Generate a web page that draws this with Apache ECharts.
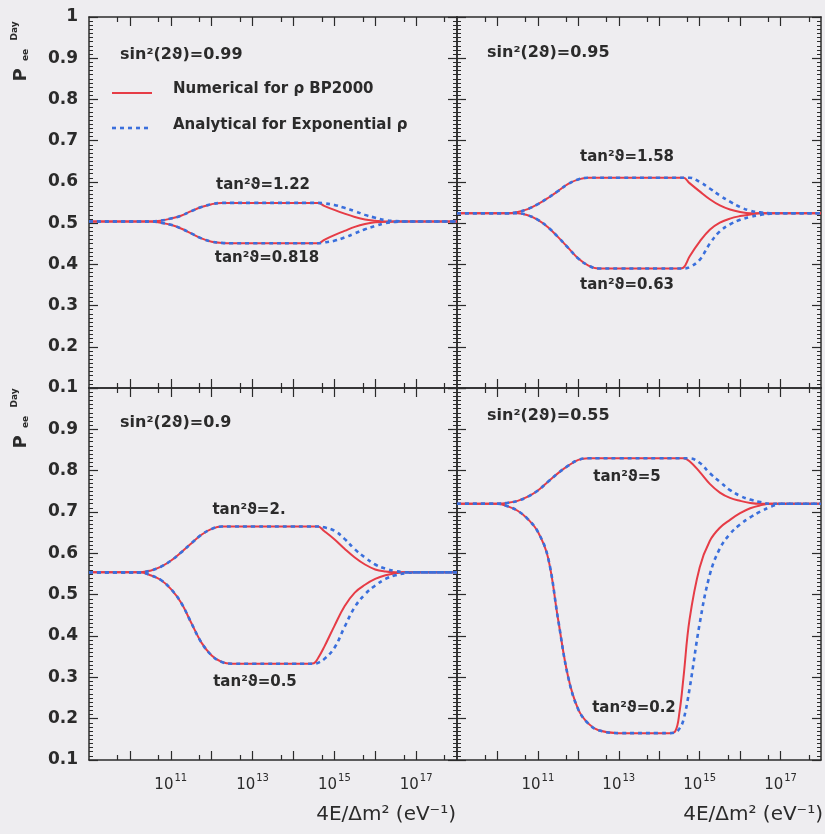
<!DOCTYPE html>
<html>
<head>
<meta charset="utf-8">
<script src="https://cdn.jsdelivr.net/npm/echarts@6/dist/echarts.min.js"></script>
<style>
html, body { margin: 0; padding: 0; background: #eeedf0; }
#chart { width: 825px; height: 834px; }
</style>
</head>
<body>
<div id="chart"></div>
<script>
// log10 of 4E/dm^2, shared by every curve
const logE = [9, 10, 10.25, 10.5, 10.75, 11, 11.25, 11.5, 11.75, 12, 12.25, 12.5, 13, 14, 14.25,
  14.4, 14.5, 14.6, 14.75, 15, 15.25, 15.5, 15.75, 16, 16.25, 16.5, 16.75, 17, 18];

// sin^2(2theta)=0.99
const p1UpRed = [0.504,0.504,0.504,0.504,0.506, 0.511,0.518,0.529,0.539,0.546, 0.549,0.549,0.549,0.549,0.549, 0.549,0.549,0.549,0.542,0.532, 0.523,0.515,0.509,0.506,0.504, 0.504,0.504,0.504,0.504];
const p1UpBlue = [0.504,0.504,0.504,0.504,0.506, 0.511,0.518,0.529,0.539,0.546, 0.549,0.549,0.549,0.549,0.549, 0.549,0.549,0.549,0.548,0.544, 0.537,0.529,0.520,0.513,0.507, 0.505,0.504,0.504,0.504];
const p1LowRed = [0.504,0.504,0.504,0.504,0.501, 0.496,0.487,0.475,0.463,0.455, 0.452,0.451,0.451,0.451,0.451, 0.451,0.451,0.451,0.459,0.471, 0.481,0.491,0.498,0.502,0.503, 0.504,0.504,0.504,0.504];
const p1LowBlue = [0.504,0.504,0.504,0.504,0.501, 0.496,0.487,0.475,0.463,0.455, 0.452,0.451,0.451,0.451,0.451, 0.451,0.451,0.451,0.453,0.457, 0.465,0.475,0.485,0.493,0.500, 0.503,0.504,0.504,0.504];

// sin^2(2theta)=0.95
const p2UpRed = [0.524,0.524,0.524,0.527,0.534, 0.546,0.561,0.578,0.595,0.606, 0.610,0.610,0.610,0.610,0.610, 0.610,0.610,0.610,0.597,0.577, 0.558,0.543,0.533,0.527,0.524, 0.524,0.524,0.524,0.524];
const p2UpBlue = [0.524,0.524,0.524,0.527,0.534, 0.546,0.561,0.578,0.595,0.606, 0.610,0.610,0.610,0.610,0.610, 0.610,0.610,0.610,0.610,0.600, 0.584,0.567,0.552,0.539,0.530, 0.526,0.524,0.524,0.524];
const p2LowRed = [0.524,0.524,0.524,0.524,0.519, 0.508,0.490,0.466,0.440,0.414, 0.397,0.390,0.390,0.390,0.390, 0.390,0.390,0.392,0.419,0.455, 0.484,0.501,0.511,0.517,0.521, 0.524,0.524,0.524,0.524];
const p2LowBlue = [0.524,0.524,0.524,0.524,0.519, 0.508,0.490,0.466,0.440,0.414, 0.397,0.390,0.390,0.390,0.390, 0.390,0.390,0.390,0.393,0.411, 0.450,0.480,0.497,0.508,0.515, 0.520,0.523,0.524,0.524];

// sin^2(2theta)=0.9
const p3UpRed = [0.554,0.554,0.554,0.558,0.567, 0.582,0.602,0.624,0.645,0.659, 0.665,0.665,0.665,0.665,0.665, 0.665,0.665,0.665,0.654,0.634, 0.611,0.590,0.573,0.561,0.556, 0.554,0.554,0.554,0.554];
const p3UpBlue = [0.554,0.554,0.554,0.558,0.567, 0.582,0.602,0.624,0.645,0.659, 0.665,0.665,0.665,0.665,0.665, 0.665,0.665,0.665,0.663,0.655, 0.635,0.610,0.590,0.573,0.563, 0.557,0.554,0.554,0.554];
const p3LowRed = [0.554,0.554,0.554,0.547,0.536, 0.514,0.481,0.432,0.384,0.353, 0.337,0.333,0.333,0.333,0.333, 0.333,0.334,0.346,0.373,0.424, 0.472,0.505,0.524,0.538,0.547, 0.552,0.554,0.554,0.554];
const p3LowBlue = [0.554,0.554,0.554,0.547,0.536, 0.514,0.481,0.432,0.384,0.353, 0.337,0.333,0.333,0.333,0.333, 0.333,0.333,0.335,0.344,0.371, 0.422,0.470,0.501,0.522,0.538, 0.547,0.552,0.554,0.554];

// sin^2(2theta)=0.55
const p4UpRed = [0.720,0.720,0.722,0.727,0.737, 0.752,0.773,0.794,0.812,0.826, 0.830,0.830,0.830,0.830,0.830, 0.830,0.830,0.830,0.823,0.797, 0.768,0.747,0.734,0.727,0.722, 0.720,0.720,0.720,0.720];
const p4UpBlue = [0.720,0.720,0.722,0.727,0.737, 0.752,0.773,0.794,0.812,0.826, 0.830,0.830,0.830,0.830,0.830, 0.830,0.830,0.830,0.830,0.819, 0.794,0.773,0.753,0.739,0.730, 0.724,0.720,0.720,0.720];
const p4LowRed = [0.720,0.720,0.714,0.703,0.683, 0.652,0.590,0.440,0.300,0.222, 0.188,0.172,0.165,0.165,0.165, 0.170,0.215,0.300,0.440,0.566, 0.630,0.662,0.681,0.697,0.709, 0.716,0.720,0.720,0.720];
const p4LowBlue = [0.720,0.720,0.714,0.703,0.683, 0.652,0.590,0.440,0.300,0.222, 0.188,0.172,0.165,0.165,0.165, 0.167,0.176,0.197,0.272,0.430, 0.548,0.612,0.647,0.670,0.687, 0.701,0.712,0.720,0.720];

const sinLabels = ['sin²(2ϑ)=0.99', 'sin²(2ϑ)=0.95', 'sin²(2ϑ)=0.9', 'sin²(2ϑ)=0.55'];
const tanLabels = [['tan²ϑ=1.22', 'tan²ϑ=0.818'], ['tan²ϑ=1.58', 'tan²ϑ=0.63'],
  ['tan²ϑ=2.', 'tan²ϑ=0.5'], ['tan²ϑ=5', 'tan²ϑ=0.2']];
const legendNames = ['Numerical for ρ BP2000', 'Analytical for Exponential ρ'];
const xTitle = '4E/Δm² (eV⁻¹)';

const decadeTicks = [1e10, 1e11, 1e12, 1e13, 1e14, 1e15, 1e16, 1e17];
const fiveTicks = [5e9, 5e10, 5e11, 5e12, 5e13, 5e14, 5e15, 5e16, 5e17];
const labelTicks = [1e11, 1e13, 1e15, 1e17];

const panelCurves = [
  [p1UpRed, p1LowRed, p1UpBlue, p1LowBlue],
  [p2UpRed, p2LowRed, p2UpBlue, p2LowBlue],
  [p3UpRed, p3LowRed, p3UpBlue, p3LowBlue],
  [p4UpRed, p4LowRed, p4UpBlue, p4LowBlue]
];

const RED = '#e63c46';
const BLUE = '#3a6fdc';
const INK = '#2b2b2b';
const FONT = 'DejaVu Sans';

const grids = [
  { left: 89, top: 17, width: 368, height: 371 },
  { left: 457, top: 17, width: 364, height: 371 },
  { left: 89, top: 388, width: 368, height: 372 },
  { left: 457, top: 388, width: 364, height: 372 }
];

function powLabel(v) {
  const n = String(Math.round(Math.log10(v)));
  return '{b|10}{s|' + n + '}';
}

const xAxis = [];
const yAxis = [];
const series = [];

grids.forEach((g, k) => {
  const base = {
    gridIndex: k, type: 'log', logBase: 10, min: 1e9, max: 1e18,
    splitLine: { show: false }, axisLabel: { show: false }
  };
  const line = { show: true, lineStyle: { color: INK, width: 1.5 } };
  // bottom decade ticks (+ labels on the lower row)
  xAxis.push(Object.assign({}, base, {
    position: 'bottom', axisLine: line,
    axisTick: { show: true, inside: true, length: 9, customValues: decadeTicks, lineStyle: { color: INK, width: 1.2 } },
    axisLabel: {
      show: k >= 2, customValues: labelTicks, margin: 8, formatter: powLabel,
      rich: {
        b: { fontSize: 15, fontFamily: FONT, color: INK, padding: [10, 0, 0, 0] },
        s: { fontSize: 10, fontFamily: FONT, color: INK, padding: [0, 0, 4, 1] }
      }
    }
  }));
  xAxis.push(Object.assign({}, base, {
    position: 'bottom', axisLine: { show: false },
    axisTick: { show: true, inside: true, length: 5, customValues: fiveTicks, lineStyle: { color: INK, width: 1.2 } }
  }));
  xAxis.push(Object.assign({}, base, {
    position: 'top', axisLine: line,
    axisTick: { show: true, inside: true, length: 9, customValues: decadeTicks, lineStyle: { color: INK, width: 1.2 } }
  }));
  xAxis.push(Object.assign({}, base, {
    position: 'top', axisLine: { show: false },
    axisTick: { show: true, inside: true, length: 5, customValues: fiveTicks, lineStyle: { color: INK, width: 1.2 } }
  }));

  ['left', 'right'].forEach(pos => {
    yAxis.push({
      gridIndex: k, type: 'value', min: 0.1, max: 1, interval: 0.1, position: pos,
      axisLine: line,
      axisTick: { show: true, inside: true, length: 9, lineStyle: { color: INK, width: 1.2 } },
      minorTick: { show: true, splitNumber: 10, length: 4, lineStyle: { color: INK, width: 1 } },
      splitLine: { show: false },
      axisLabel: {
        show: pos === 'left' && k % 2 === 0, fontSize: 17, fontWeight: 'bold', fontFamily: FONT,
        color: INK, margin: 11, showMaxLabel: k !== 2
      }
    });
  });

  const curves = panelCurves[k];
  curves.forEach((vals, j) => {
    const isBlue = j >= 2;
    series.push({
      type: 'line', xAxisIndex: 4 * k, yAxisIndex: 2 * k,
      data: logE.map((e, i) => [Math.pow(10, e), vals[i]]),
      showSymbol: false, symbol: 'none', smooth: 0.4, z: isBlue ? 4 : 3,
      lineStyle: isBlue ? { color: BLUE, width: 2.6, type: [4, 4] } : { color: RED, width: 2 }
    });
  });
});

const T = (text, x, y, size, extra) => ({
  type: 'text', x: x, y: y,
  style: Object.assign({ text: text, fill: INK, font: 'bold ' + size + 'px "' + FONT + '"', align: 'left', verticalAlign: 'middle' }, extra || {})
});

const graphic = [
  T(sinLabels[0], 120, 55, 16),
  T(sinLabels[1], 487, 53, 16),
  T(sinLabels[2], 120, 423, 16),
  T(sinLabels[3], 487, 416, 16),
  T(tanLabels[0][0], 263, 185, 15, { align: 'center' }),
  T(tanLabels[0][1], 267, 258, 15, { align: 'center' }),
  T(tanLabels[1][0], 627, 157, 15, { align: 'center' }),
  T(tanLabels[1][1], 627, 285, 15, { align: 'center' }),
  T(tanLabels[2][0], 249, 510, 15, { align: 'center' }),
  T(tanLabels[2][1], 255, 682, 15, { align: 'center' }),
  T(tanLabels[3][0], 627, 477, 15, { align: 'center' }),
  T(tanLabels[3][1], 634, 708, 15, { align: 'center' }),
  { type: 'line', shape: { x1: 112, y1: 93, x2: 152, y2: 93 }, style: { stroke: RED, lineWidth: 2 } },
  { type: 'line', shape: { x1: 112, y1: 128, x2: 152, y2: 128 }, style: { stroke: BLUE, lineWidth: 2.6, lineDash: [4, 4] } },
  T(legendNames[0], 173, 89, 15),
  T(legendNames[1], 173, 125, 15),
  T(xTitle, 456, 815, 20, { align: 'right', font: '20px "' + FONT + '"' }),
  T(xTitle, 823, 815, 20, { align: 'right', font: '20px "' + FONT + '"' })
];

// rotated y-axis title P_ee^Day, once per row
[0, 367].forEach(dy => {
  graphic.push({ type: 'text', x: 21, y: 75 + dy, rotation: Math.PI / 2,
    style: { text: 'P', fill: INK, font: 'bold 18px "' + FONT + '"', align: 'center', verticalAlign: 'middle' } });
  graphic.push({ type: 'text', x: 26, y: 55 + dy, rotation: Math.PI / 2,
    style: { text: 'ee', fill: INK, font: 'bold 9px "' + FONT + '"', align: 'center', verticalAlign: 'middle' } });
  graphic.push({ type: 'text', x: 15, y: 31 + dy, rotation: Math.PI / 2,
    style: { text: 'Day', fill: INK, font: 'bold 9px "' + FONT + '"', align: 'center', verticalAlign: 'middle' } });
});

const chart = echarts.init(document.getElementById('chart'));
chart.setOption({
  backgroundColor: '#eeedf0',
  animation: false,
  textStyle: { fontFamily: FONT },
  grid: grids,
  xAxis: xAxis,
  yAxis: yAxis,
  series: series,
  graphic: graphic
});
</script>
</body>
</html>
